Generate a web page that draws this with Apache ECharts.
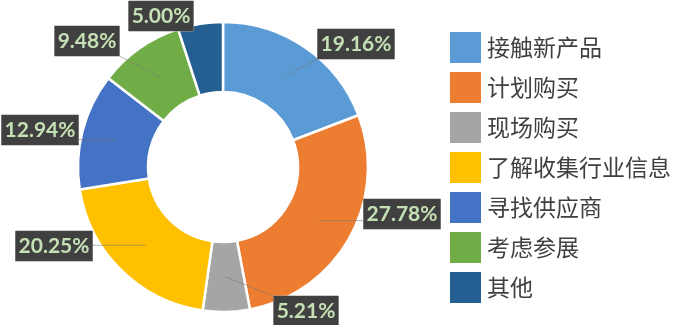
<!DOCTYPE html>
<html>
<head>
<meta charset="utf-8">
<script src="https://cdn.jsdelivr.net/npm/echarts@6/dist/echarts.min.js"></script>
<style>
  html, body { margin: 0; padding: 0; background: #fff; }
  #chart { width: 676px; height: 325px; }
</style>
</head>
<body>
<div id="chart"></div>
<script>
// Shares of visitor purpose (percent), clockwise from 12 o'clock
const categories = ['接触新产品', '计划购买', '现场购买', '了解收集行业信息', '寻找供应商', '考虑参展', '其他'];
const shares = [19.16, 27.78, 5.21, 20.25, 12.94, 9.48, 5.00];
const colors = ['#5B9BD5', '#ED7D31', '#A5A5A5', '#FFC000', '#4472C4', '#70AD47', '#255E91'];

// Where each value tag sits, as an offset (px) from the ring centre
const tagOffset = [[133, -123], [179, 47], [83, 144], [-169, 79], [-183, -37], [-136, -126], [-62, -151]];
// tags that get a leader line back into their slice
const showLeader = [true, true, true, true, true, true, false];

const CX = 223, CY = 167, R_IN = 75, R_OUT = 145;
const TAG_FONT = { family: 'Lato', weight: 'bold', size: 21 };
const TAG_PAD = [5, 3, 4, 3]; // top right bottom left

const total = shares.reduce((a, b) => a + b, 0);
const fmt = v => v.toFixed(2) + '%';

// mid angle (radians, clockwise from top) of each slice
const midAngles = [];
let acc = 0;
shares.forEach(v => {
  midAngles.push((acc + v / 2) / total * Math.PI * 2);
  acc += v;
});

// measure a tag box so leaders stop at its edge
const ctx = document.createElement('canvas').getContext('2d');
ctx.font = TAG_FONT.weight + ' ' + TAG_FONT.size + 'px ' + TAG_FONT.family;
function tagBox(i) {
  const w = ctx.measureText(fmt(shares[i])).width + TAG_PAD[1] + TAG_PAD[3];
  const h = TAG_FONT.size + TAG_PAD[0] + TAG_PAD[2];
  return { cx: CX + tagOffset[i][0], cy: CY + tagOffset[i][1], w: w, h: h };
}

const leaders = [];
shares.forEach((v, i) => {
  if (!showLeader[i]) return;
  const b = tagBox(i);
  const rm = (R_IN + R_OUT) / 2;
  const sx = CX + rm * Math.sin(midAngles[i]);
  const sy = CY - rm * Math.cos(midAngles[i]);
  const ex = Math.min(Math.max(sx, b.cx - b.w / 2), b.cx + b.w / 2);
  const ey = Math.min(Math.max(sy, b.cy - b.h / 2), b.cy + b.h / 2);
  leaders.push({
    type: 'polyline',
    z: 50,
    silent: true,
    shape: { points: [[sx, sy], [ex, ey]] },
    style: { stroke: 'rgba(120,120,120,0.55)', lineWidth: 1, fill: null }
  });
});

const chart = echarts.init(document.getElementById('chart'), null, { renderer: 'canvas' });

chart.setOption({
  animation: false,
  color: colors,
  legend: {
    orient: 'vertical',
    left: 443,
    top: 25,
    icon: 'rect',
    itemWidth: 33,
    itemHeight: 33,
    itemGap: 5,
    textStyle: { fontFamily: 'Noto Sans CJK SC', fontSize: 23, color: '#404040' },
    data: categories
  },
  graphic: leaders,
  series: [{
    type: 'pie',
    z: 2,
    center: [CX, CY],
    radius: [R_IN, R_OUT],
    startAngle: 90,
    clockwise: true,
    avoidLabelOverlap: false,
    itemStyle: { borderColor: '#fff', borderWidth: 2.5 },
    label: {
      show: true,
      position: 'outside',
      formatter: p => fmt(p.value),
      fontFamily: TAG_FONT.family,
      fontWeight: TAG_FONT.weight,
      fontSize: TAG_FONT.size,
      color: '#C5E0B4',
      backgroundColor: '#404040',
      borderColor: '#9a9a9a',
      borderWidth: 0.5,
      padding: TAG_PAD
    },
    labelLine: { show: false },
    labelLayout: function (params) {
      const i = params.dataIndex;
      return {
        x: CX + tagOffset[i][0],
        y: CY + tagOffset[i][1],
        align: 'center',
        verticalAlign: 'middle'
      };
    },
    data: categories.map((name, i) => ({ name: name, value: shares[i] }))
  }]
});
</script>
</body>
</html>
